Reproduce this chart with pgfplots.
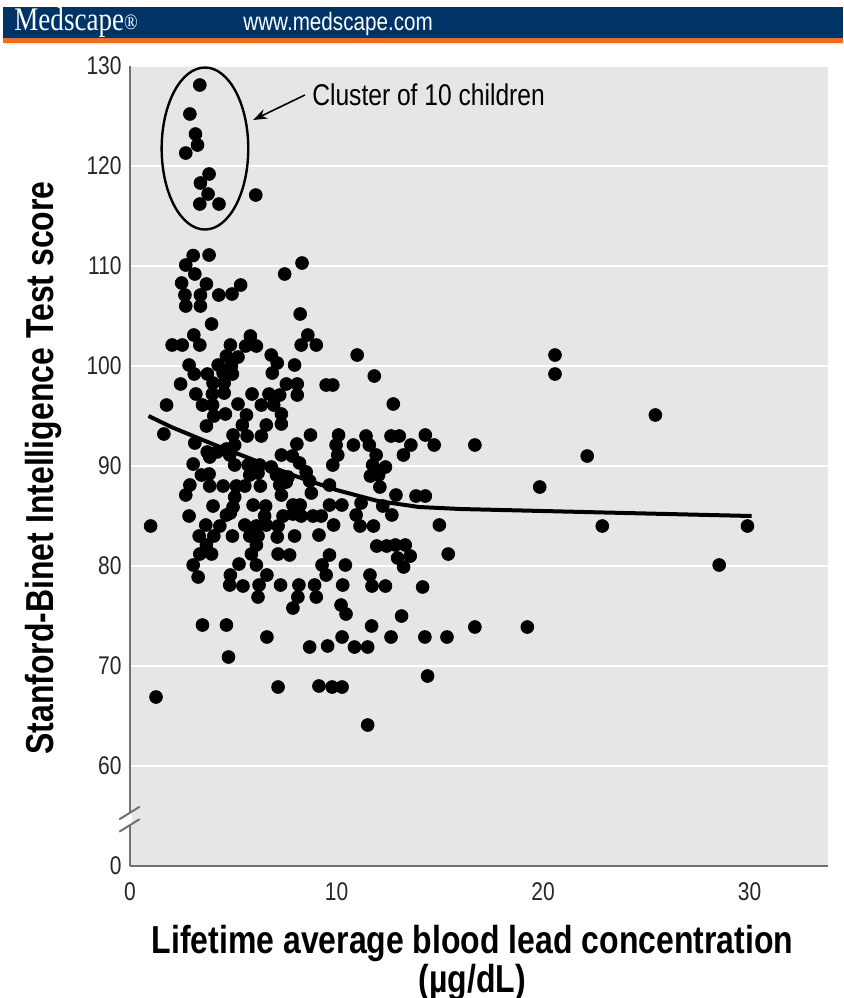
\documentclass[border=0pt]{standalone}
\usepackage{pgfplots}
\pgfplotsset{compat=1.18}
\usepackage{pgfplotstable}
\usetikzlibrary{arrows.meta}
\usepackage{fontspec}
\setmainfont{Liberation Sans}[FakeStretch=0.82]
\newfontfamily\medfont{Liberation Serif}[FakeStretch=0.82]
\definecolor{hdrblue}{HTML}{003466}
\definecolor{hdrorange}{HTML}{F26B1D}
\definecolor{plotbg}{HTML}{E6E6E6}
\definecolor{axisgray}{HTML}{707070}

\pgfplotstableread{
x y
3.38 128.1
2.90 125.2
3.17 123.2
3.27 122.1
2.70 121.3
3.83 119.2
3.41 118.3
3.78 117.2
3.38 116.2
4.31 116.2
6.09 117.1
3.06 111.05
3.83 111.1
2.70 110.1
3.14 109.2
7.49 109.2
8.33 110.3
2.50 108.3
3.70 108.2
5.36 108.1
2.66 107.1
3.41 107.1
4.30 107.1
4.94 107.2
2.70 106.0
3.41 106.0
8.24 105.2
3.95 104.2
3.09 103.1
5.83 103.0
8.61 103.1
2.04 102.1
2.53 102.1
3.38 102.1
4.86 102.1
5.60 102.0
6.12 102.0
8.29 102.1
9.02 102.1
4.67 101.0
5.23 100.9
6.84 101.1
2.86 100.1
4.27 100.1
4.91 100.0
7.13 100.3
7.97 100.1
3.11 99.2
3.75 99.2
4.51 99.3
4.96 99.2
6.89 99.3
2.45 98.2
4.02 98.3
4.56 98.3
7.57 98.2
8.10 98.2
9.50 98.1
9.82 98.1
3.19 97.2
3.99 97.2
4.56 97.3
5.91 97.2
6.73 97.2
7.25 97.1
8.10 97.1
1.77 96.1
3.51 96.1
4.00 96.1
5.23 96.2
6.36 96.1
6.96 96.1
4.06 95.0
4.62 95.2
5.64 95.1
7.33 95.2
3.70 94.0
5.44 94.1
6.60 94.1
7.33 94.2
1.64 93.2
4.99 93.1
5.67 93.0
6.36 93.0
8.74 93.1
10.10 93.1
8.08 92.2
9.98 92.1
3.14 92.3
3.74 91.4
4.22 91.4
4.67 91.7
5.07 92.1
3.86 90.9
4.83 91.1
7.33 91.1
7.86 91.0
10.06 91.1
3.06 90.2
5.07 90.1
5.72 90.1
6.28 90.1
6.84 89.9
8.21 90.3
9.82 90.1
3.46 89.1
3.83 89.2
5.80 89.1
6.20 89.3
7.09 89.1
7.65 88.9
8.53 89.4
2.90 88.1
3.86 88.0
4.51 88.0
5.15 88.0
5.56 88.0
6.31 88.0
7.25 88.1
7.57 88.4
9.66 88.1
2.70 87.1
5.07 86.9
7.33 87.1
8.78 87.3
4.02 86.0
4.99 85.9
5.96 86.1
6.57 86.0
7.89 86.1
8.24 86.1
9.66 86.1
10.26 86.1
2.86 85.0
4.67 85.1
4.86 85.3
6.52 85.0
7.41 85.0
7.89 85.2
8.29 85.0
8.86 85.0
9.26 85.0
1.00 84.0
3.67 84.1
4.35 84.0
5.56 84.1
6.12 84.0
6.60 84.1
7.17 84.0
9.86 84.1
3.35 83.0
4.06 83.0
4.96 83.0
5.80 83.0
6.20 83.0
7.13 82.9
7.97 83.0
9.15 83.1
3.70 82.1
6.12 82.1
3.38 81.2
3.95 81.2
5.88 81.2
7.17 81.2
7.73 81.1
9.66 81.1
3.06 80.1
5.28 80.2
6.12 80.1
9.30 80.1
10.43 80.1
3.30 78.9
4.86 79.1
6.63 79.1
9.50 79.1
4.83 78.1
5.47 78.0
6.25 78.1
7.29 78.1
8.18 78.1
8.94 78.1
10.30 78.1
6.20 76.9
8.13 76.9
9.02 76.9
7.89 75.8
10.22 76.1
10.46 75.2
3.51 74.1
4.67 74.1
6.63 72.9
8.70 71.9
9.57 72.0
10.27 72.9
4.77 70.9
1.26 66.9
7.17 67.9
9.15 68.0
9.79 67.9
10.27 67.9
11.00 101.1
11.83 99.0
12.75 96.2
11.43 93.0
12.64 93.0
13.04 93.0
14.30 93.1
10.82 92.1
11.59 92.1
13.60 92.1
14.73 92.1
16.70 92.1
11.92 91.1
13.24 91.1
11.75 90.1
12.37 89.9
11.64 89.0
12.04 89.1
8.70 88.5
12.10 87.9
12.88 87.1
13.85 87.0
14.30 87.0
11.19 86.3
12.24 86.0
10.95 85.1
12.68 85.1
11.14 84.0
11.79 84.0
14.98 84.1
11.95 82.0
12.43 82.0
12.85 82.1
13.33 82.1
12.96 80.8
13.57 81.0
15.41 81.2
13.25 79.9
11.62 79.1
11.72 78.0
12.37 78.0
14.17 77.9
13.15 75.0
11.70 74.0
16.70 73.9
12.64 72.9
14.28 72.9
15.35 72.9
10.87 71.9
11.51 71.9
14.41 69.0
11.51 64.1
20.58 101.1
20.58 99.2
25.44 95.1
22.14 91.0
19.84 87.9
22.87 84.0
29.90 84.0
28.53 80.1
19.24 73.9
}\scores

\pgfplotstableread{
x y
0.9 95.0
2.0 93.9
4.0 92.2
6.0 90.6
8.0 89.0
10.0 87.6
12.0 86.5
14.0 85.9
16.0 85.7
20.0 85.5
25.0 85.25
30.1 85.0
}\fitline

\begin{document}
\begin{tikzpicture}
\path[use as bounding box] (0,0) rectangle (421.5pt,-499pt);
% header
\fill[hdrblue] (1.5pt,-3.5pt) rectangle (421.5pt,-19pt);
\fill[hdrorange] (1.5pt,-19pt) rectangle (421.5pt,-21.5pt);
\node[anchor=base west, text=white, inner sep=0pt, font=\medfont\fontsize{16.5}{17}\selectfont] at (7pt,-15pt) {Medscape\raisebox{0.3pt}{\fontsize{11}{11}\selectfont ®}};
\node[anchor=base west, text=white, inner sep=0pt, font=\fontsize{12.6}{14}\selectfont] at (121.5pt,-15pt) {www.medscape.com};

\begin{axis}[
  at={(65pt,-433pt)}, anchor=south west,
  width=349pt, height=400pt, scale only axis,
  xmin=0, xmax=33.8, ymin=50, ymax=130,
  axis x line=bottom, axis y line=left,
  axis line style={-, draw=axisgray, line width=1pt},
  axis background/.style={fill=plotbg},
  xtick={0,10,20,30},
  ytick={50,60,70,80,90,100,110,120,130},
  yticklabels={0,60,70,80,90,100,110,120,130},
  major tick length=0pt,
  ymajorgrids, major grid style={white, line width=1pt},
  /pgf/number format/assume math mode=true,
  tick label style={font=\fontsize{12.8}{14}\selectfont, inner sep=0pt, text=black!85},
  yticklabel style={xshift=-4pt},
  xticklabel style={yshift=-8pt},
  xlabel={Lifetime average blood lead concentration\\(\textmu g/dL)},
  xlabel style={at={(axis description cs:0.4907,0)}, anchor=north, yshift=-29.5pt, align=center, inner sep=0pt, font=\bfseries\fontsize{19.5}{17}\selectfont},
  ylabel={Stanford-Binet Intelligence Test score},
  ylabel style={at={(axis description cs:-0.1242,0.4975)}, anchor=center, inner sep=0pt, font=\bfseries\fontsize{19.5}{17.5}\selectfont},
  clip=false,
]
\addplot[only marks, mark=*, mark size=3.2pt, black] table[x=x, y=y] {\scores};
\addplot[black, line width=2pt, no marks] table[x=x, y=y] {\fitline};
% cluster annotation
\draw[black, line width=1.2pt] (axis cs:3.63,121.75) ellipse [x radius=21.65pt, y radius=40.5pt];
\draw[black, line width=0.8pt, -{Stealth[length=7pt,width=5pt]}] (axis cs:8.47,127.1) -- (axis cs:5.96,124.6);
\node[anchor=west, inner sep=0pt, font=\fontsize{15}{16}\selectfont] at (axis cs:8.81,127.1) {Cluster of 10 children};
% axis break
\draw[white, line width=2.2pt] (axis cs:0,54.05) -- (axis cs:0,55.37);
\draw[axisgray, line width=1pt] (axis cs:-0.518,54.67) -- (axis cs:0.47,55.93);
\draw[axisgray, line width=1pt] (axis cs:-0.518,53.43) -- (axis cs:0.47,54.69);
\end{axis}
\end{tikzpicture}
\end{document}
